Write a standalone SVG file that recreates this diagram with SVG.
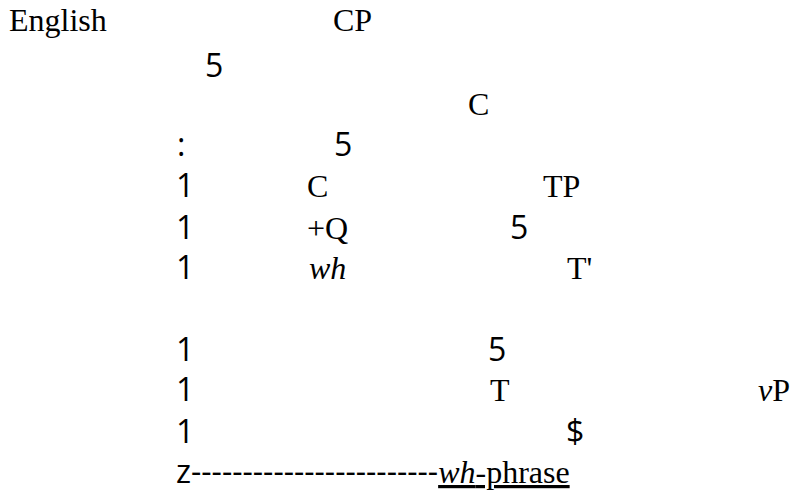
<svg xmlns="http://www.w3.org/2000/svg" width="790" height="496" viewBox="0 0 790 496">
<style>
.s{font-family:"Liberation Serif","Times New Roman",serif;font-size:32px;fill:#000}
.g{font-family:"Open Sans","Noto Sans",sans-serif;font-size:32px;fill:#000}
.i{font-style:italic}
</style>
<rect width="790" height="496" fill="#fff"/>
<g id="label-english"><text class="s" x="9" y="31">English</text></g>
<g id="node-CP"><text class="s" x="333" y="31">CP</text></g>
<g id="node-Cbar"><text class="s" x="468" y="115">C</text></g>
<g id="node-C"><text class="s" x="307" y="197">C</text></g>
<g id="node-TP"><text class="s" x="543" y="197">TP</text></g>
<g id="node-Q"><text class="s" x="307" y="239">+Q</text></g>
<g id="node-wh"><text class="s i" x="309" y="279">wh</text></g>
<g id="node-Tbar"><text class="s" x="567" y="279">T'</text></g>
<g id="node-T"><text class="s" x="490" y="401">T</text></g>
<g id="node-vP"><text class="s" x="758" y="401"><tspan class="i">v</tspan>P</text></g>
<g id="connectors">
<text class="g" x="205" y="77">5</text>
<text class="g" x="177" y="156">:</text>
<text class="g" x="334" y="156">5</text>
<text class="g" x="176" y="197">1</text>
<text class="g" x="176" y="239">1</text>
<text class="g" x="510" y="239">5</text>
<text class="g" x="176" y="279">1</text>
<text class="g" x="176" y="361">1</text>
<text class="g" x="488" y="361">5</text>
<text class="g" x="176" y="401">1</text>
<text class="g" x="176" y="443">1</text>
<text class="g" x="566" y="443">$</text>
</g>
<g id="node-wh-phrase"><text x="176" y="483"><tspan class="g">z------------------------</tspan><tspan class="s" text-decoration="underline"><tspan class="i">wh</tspan>-phrase</tspan></text></g>
</svg>
